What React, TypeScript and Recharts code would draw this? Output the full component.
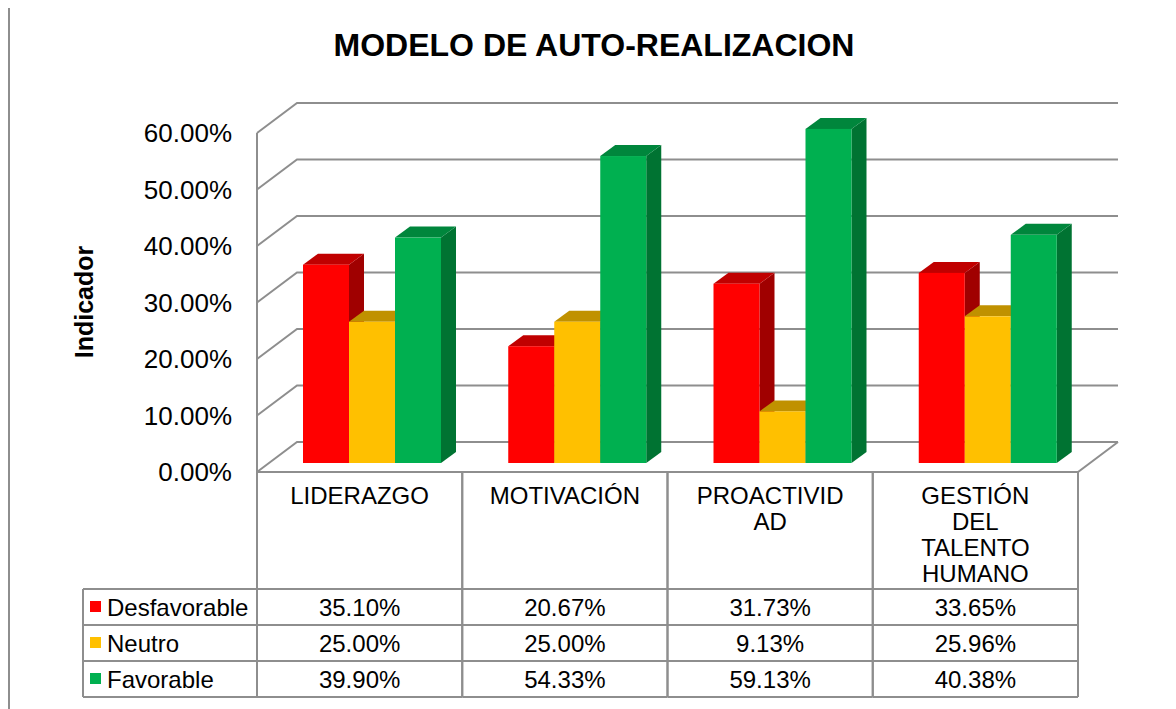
import { BarChart, Bar, XAxis, YAxis, CartesianGrid } from 'recharts';

const categories = ['LIDERAZGO', 'MOTIVACIÓN', 'PROACTIVIDAD', 'GESTIÓN DEL TALENTO HUMANO'];
const categoryLines = [['LIDERAZGO'], ['MOTIVACIÓN'], ['PROACTIVID', 'AD'], ['GESTIÓN', 'DEL', 'TALENTO', 'HUMANO']];
const desfavorable = [0.351, 0.2067, 0.3173, 0.3365];
const neutro = [0.25, 0.25, 0.0913, 0.2596];
const favorable = [0.399, 0.5433, 0.5913, 0.4038];
const yTicks = [0, 0.1, 0.2, 0.3, 0.4, 0.5, 0.6];

const seriesList = [
  { key: 'desfavorable', name: 'Desfavorable', values: desfavorable, front: '#FF0000', top: '#C00000', side: '#A00000' },
  { key: 'neutro', name: 'Neutro', values: neutro, front: '#FFC000', top: '#C09100', side: '#A07800' },
  { key: 'favorable', name: 'Favorable', values: favorable, front: '#00B050', top: '#00863C', side: '#007332' },
];

const data = categories.map((name, i) => ({
  name,
  desfavorable: desfavorable[i],
  neutro: neutro[i],
  favorable: favorable[i],
}));

const W = 1176;
const H = 709;
const PLOT_LEFT = 257;
const PLOT_RIGHT = 1078;
const PLOT_TOP = 133;
const PLOT_BOTTOM = 472;
const WALL_DX = 40;
const WALL_DY = -30;
const BAR_DX = 12;
const BAR_DY = -9;
const DEPTH_X = 15;
const DEPTH_Y = -11;
const GRID = '#8E8E8E';
const FONT = '"Liberation Sans", Arial, sans-serif';
const ROWS = [589, 625, 661, 697];
const LEGEND_LEFT = 83;

const fmt = (v: number) => `${(v * 100).toFixed(2)}%`;

const gridLine = (p: any) => {
  const { x1, x2, y1 } = p;
  const isFloor = Math.abs(y1 - PLOT_BOTTOM) < 1;
  return (
    <g key={`g-${y1}`}>
      <polyline
        points={`${x1},${y1} ${x1 + WALL_DX},${y1 + WALL_DY} ${x2 + WALL_DX},${y1 + WALL_DY}`}
        fill="none"
        stroke={GRID}
        strokeWidth={2}
      />
      {isFloor && (
        <polyline
          points={`${x1},${y1} ${x2},${y1} ${x2 + WALL_DX},${y1 + WALL_DY}`}
          fill="none"
          stroke={GRID}
          strokeWidth={2}
        />
      )}
    </g>
  );
};

const makeBar3D = (s: (typeof seriesList)[number]) => (props: any) => {
  const { x, y, width, height } = props;
  if (!height || height <= 0) return <g />;
  const fx = x + BAR_DX;
  const fy = y + BAR_DY;
  const r = fx + width;
  return (
    <g>
      <polygon
        points={`${r},${fy} ${r + DEPTH_X},${fy + DEPTH_Y} ${r + DEPTH_X},${fy + height + DEPTH_Y} ${r},${fy + height}`}
        fill={s.side}
      />
      <polygon
        points={`${fx},${fy} ${fx + DEPTH_X},${fy + DEPTH_Y} ${r + DEPTH_X},${fy + DEPTH_Y} ${r},${fy}`}
        fill={s.top}
      />
      <rect x={fx} y={fy} width={width} height={height} fill={s.front} />
    </g>
  );
};

// each x tick draws its column of the data table
const TableColumn = (props: any) => {
  const { x } = props;
  const i = props.index ?? props.payload?.index ?? 0;
  const half = (PLOT_RIGHT - PLOT_LEFT) / categories.length / 2;
  const l = x - half;
  const r = x + half;
  const lineProps = { stroke: GRID, strokeWidth: 2 };
  return (
    <g fontFamily={FONT} fontSize={24} fill="#000">
      <line x1={l} y1={PLOT_BOTTOM} x2={l} y2={ROWS[3]} {...lineProps} />
      <line x1={r} y1={PLOT_BOTTOM} x2={r} y2={ROWS[3]} {...lineProps} />
      {ROWS.map((ry) => (
        <line key={ry} x1={l} y1={ry} x2={r} y2={ry} {...lineProps} />
      ))}
      <text x={x} y={504} textAnchor="middle" fill="#000">
        {categoryLines[i].map((t, k) => (
          <tspan key={k} x={x} dy={k === 0 ? 0 : 26}>
            {t}
          </tspan>
        ))}
      </text>
      {seriesList.map((s, k) => (
        <text key={s.key} x={x} y={ROWS[k] + 26.5} textAnchor="middle" fill="#000">
          {fmt(s.values[i])}
        </text>
      ))}
      {i === 0 && (
        <g>
          <line x1={LEGEND_LEFT} y1={ROWS[0]} x2={LEGEND_LEFT} y2={ROWS[3]} {...lineProps} />
          {ROWS.map((ry) => (
            <line key={ry} x1={LEGEND_LEFT} y1={ry} x2={l} y2={ry} {...lineProps} />
          ))}
          {seriesList.map((s, k) => (
            <g key={s.key}>
              <rect x={90} y={ROWS[k] + 12} width={11} height={11} fill={s.front} />
              <text x={107} y={ROWS[k] + 26.5} fill="#000">
                {s.name}
              </text>
            </g>
          ))}
        </g>
      )}
    </g>
  );
};

export default function App() {
  return (
    <div style={{ position: 'relative', width: W, height: H, margin: '-8px 0 0 -8px', overflow: 'hidden', background: '#fff' }}>
      <div
        style={{
          position: 'absolute',
          left: 8,
          top: 6,
          width: W + 20,
          height: H + 20,
          borderLeft: `2px solid ${GRID}`,
          borderTop: `2px solid ${GRID}`,
        }}
      />
      <div
        style={{
          position: 'absolute',
          left: 0,
          top: 29,
          width: 1188,
          textAlign: 'center',
          fontFamily: FONT,
          fontWeight: 'bold',
          fontSize: 32,
          lineHeight: 1,
          color: '#000',
        }}
      >
        MODELO DE AUTO-REALIZACION
      </div>
      <div style={{ position: 'absolute', left: 0, top: 0 }}>
        <BarChart
          width={W}
          height={H}
          data={data}
          margin={{ top: PLOT_TOP, right: W - PLOT_RIGHT, bottom: 0, left: 0 }}
          barCategoryGap={34}
          barGap={0}
        >
          <CartesianGrid vertical={false} horizontal={gridLine} />
          <XAxis
            dataKey="name"
            height={H - PLOT_BOTTOM}
            axisLine={false}
            tickLine={false}
            interval={0}
            tick={TableColumn}
          />
          <YAxis
            domain={[0, 0.6]}
            ticks={yTicks}
            tickFormatter={fmt}
            width={PLOT_LEFT}
            axisLine={{ stroke: GRID, strokeWidth: 2 }}
            tickLine={false}
            tickMargin={19}
            tick={{ fontSize: 26, fill: '#000', fontFamily: FONT }}
            label={{
              content: () => (
                <text
                  x={84}
                  y={302}
                  transform="rotate(-90 84 302)"
                  textAnchor="middle"
                  dominantBaseline="central"
                  fontFamily={FONT}
                  fontWeight="bold"
                  fontSize={25}
                  fill="#000"
                >
                  Indicador
                </text>
              ),
            }}
          />
          {seriesList.map((s) => (
            <Bar key={s.key} dataKey={s.key} name={s.name} isAnimationActive={false} shape={makeBar3D(s)} />
          ))}
        </BarChart>
      </div>
    </div>
  );
}
